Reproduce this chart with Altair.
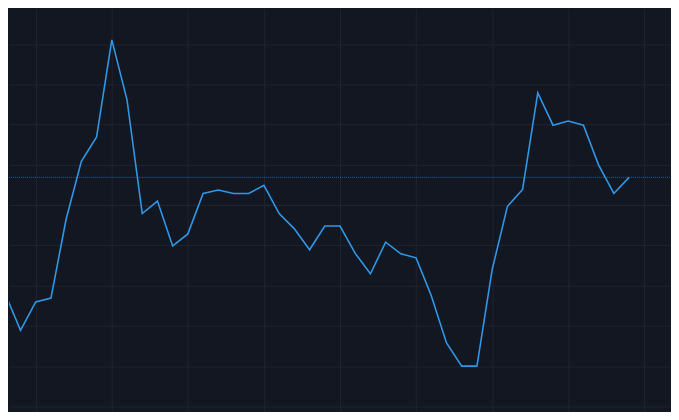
import altair as alt
import pandas as pd

# Series values (index, value)
idx = list(range(42))
values = [25.58, 23.78, 25.19, 25.38, 29.31, 32.18, 33.39, 38.21, 35.23, 29.58,
          30.20, 27.97, 28.57, 30.58, 30.75, 30.58, 30.58, 30.98, 29.58, 28.82,
          27.78, 28.96, 28.96, 27.60, 26.59, 28.16, 27.58, 27.38, 25.50, 23.15,
          22.00, 22.00, 26.79, 29.93, 30.78, 35.57, 33.97, 34.18, 33.97, 31.99,
          30.58, 31.38]
x_grid = [2, 7, 12, 17, 22, 27, 32, 37, 42]
y_grid = [20, 22, 24, 26, 28, 30, 32, 34, 36, 38]
last_value = [values[-1]]

df = pd.DataFrame({"i": idx, "v": values})
df_last = pd.DataFrame({"v": last_value})

BG = "#131722"
GRID = "#1f2430"
LINE = "#2f97e6"

x_scale = alt.Scale(domain=[0.2425, 43.69], nice=False, zero=False)
y_scale = alt.Scale(domain=[19.752, 39.762], nice=False, zero=False)

line = alt.Chart(df).mark_line(color=LINE, strokeWidth=1.6, clip=True).encode(
    x=alt.X("i:Q", scale=x_scale,
            axis=alt.Axis(values=x_grid, grid=True, gridColor=GRID, gridWidth=1,
                          labels=False, ticks=False, domain=False, title=None)),
    y=alt.Y("v:Q", scale=y_scale,
            axis=alt.Axis(values=y_grid, grid=True, gridColor=GRID, gridWidth=1,
                          labels=False, ticks=False, domain=False, title=None)),
)

price_line = alt.Chart(df_last).mark_rule(
    color="#2196f3", opacity=0.6, strokeWidth=1, strokeDash=[1, 1]
).encode(y=alt.Y("v:Q", scale=y_scale))

chart = alt.layer(line, price_line).properties(
    width=663, height=404, background=BG, padding=0
).configure_view(stroke=None, fill=BG)

chart.save("out.html", embed_options={"renderer": "svg", "actions": False})
